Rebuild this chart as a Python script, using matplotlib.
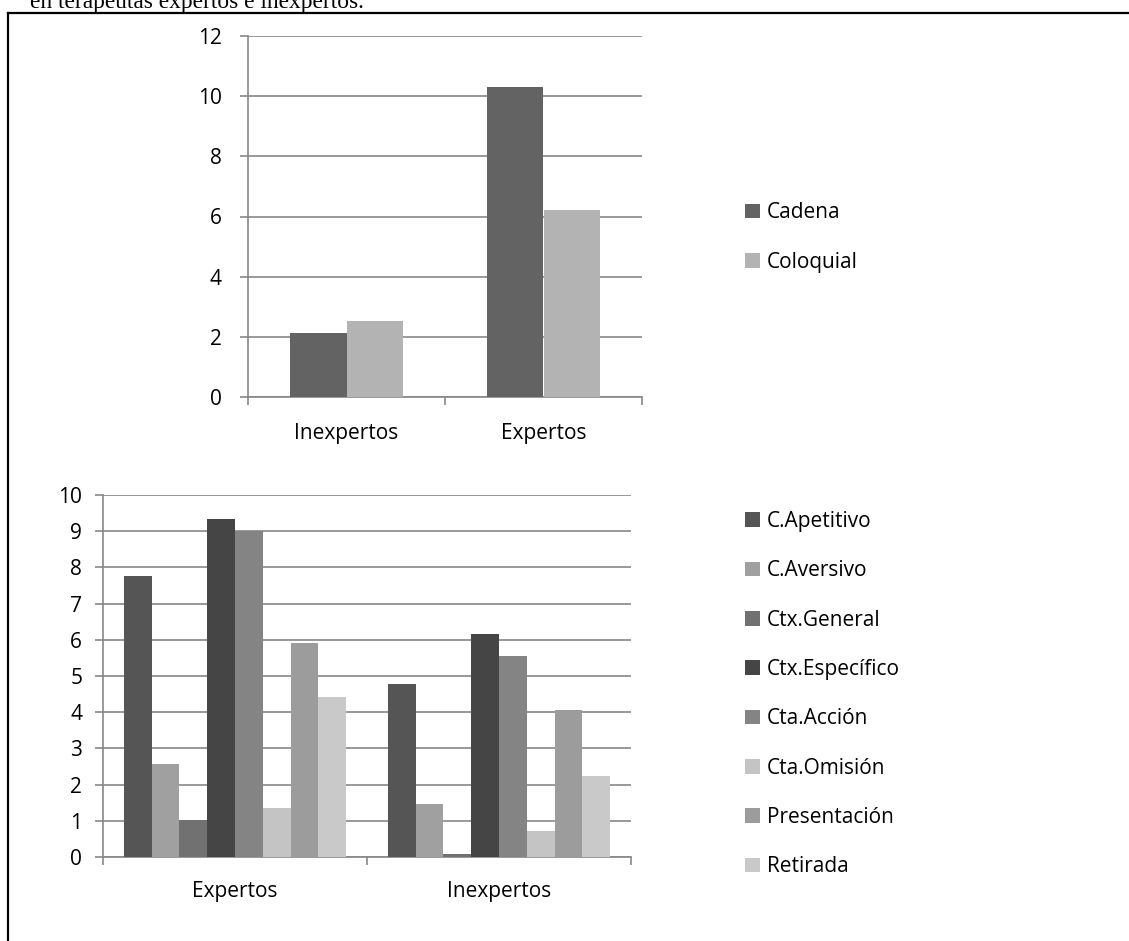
import matplotlib
matplotlib.use("Agg")
import matplotlib.pyplot as plt
from matplotlib.lines import Line2D
import numpy as np

plt.rcParams["font.family"] = ["Open Sans", "DejaVu Sans"]

W, H = 1129, 941
DPI = 100

# --- data: upper chart ---
grupos_sup = ["Inexpertos", "Expertos"]
series_sup = ["Cadena", "Coloquial"]
cadena = [2.14, 10.31]
coloquial = [2.52, 6.21]
colores_sup = ["#636363", "#b3b3b3"]

# --- data: lower chart ---
grupos_inf = ["Expertos", "Inexpertos"]
series_inf = ["C.Apetitivo", "C.Aversivo", "Ctx.General", "Ctx.Específico",
              "Cta.Acción", "Cta.Omisión", "Presentación", "Retirada"]
c_apetitivo = [7.76, 4.79]
c_aversivo = [2.57, 1.47]
ctx_general = [1.01, 0.07]
ctx_especifico = [9.35, 6.17]
cta_accion = [9.01, 5.55]
cta_omision = [1.34, 0.72]
presentacion = [5.92, 4.06]
retirada = [4.41, 2.23]
colores_inf = ["#555555", "#a0a0a0", "#717171", "#454545",
               "#848484", "#c4c4c4", "#9c9c9c", "#c9c9c9"]

GRID = "#878787"
FS = 15


def px_box(x0, y0, x1, y1):
    # pixel box (top-left origin) -> figure fraction rect
    return [x0 / W, 1 - y1 / H, (x1 - x0) / W, (y1 - y0) / H]


def bar_chart(ax, grupos, valores, nombres, colores, ymax, ystep, ypad, xpad):
    n = len(valores)
    ancho = 1.0 / (n + 1.5)
    x = np.arange(len(grupos))
    handles = []
    for i, (v, c) in enumerate(zip(valores, colores)):
        off = (i - (n - 1) / 2) * ancho
        h = ax.bar(x + off, v, width=ancho, color=c, label=nombres[i],
                   zorder=3, linewidth=0)
        handles.append(h)
    ax.set_xlim(-0.5, len(grupos) - 0.5)
    ax.set_ylim(0, ymax)
    ax.set_yticks(np.arange(0, ymax + 0.01, ystep))
    ax.set_xticks(np.arange(-0.5, len(grupos), 1.0))
    ax.set_xticklabels([])
    ax.set_xticks(x, minor=True)
    ax.set_xticklabels(grupos, minor=True, fontsize=FS)
    ax.tick_params(axis="x", which="major", length=6, width=1.2,
                   color=GRID, direction="out")
    ax.tick_params(axis="x", which="minor", length=0, pad=xpad)
    ax.tick_params(axis="y", length=6, width=1.2, color=GRID,
                   labelsize=FS, pad=ypad)
    ax.yaxis.grid(True, color=GRID, linewidth=1.2)
    ax.set_axisbelow(True)
    for s in ["top", "right"]:
        ax.spines[s].set_visible(False)
    for s in ["left", "bottom"]:
        ax.spines[s].set_color(GRID)
        ax.spines[s].set_linewidth(1.2)
    return handles


fig = plt.figure(figsize=(W / DPI, H / DPI), dpi=DPI)

ax1 = fig.add_axes(px_box(248, 36, 642, 397))
hs1 = bar_chart(ax1, grupos_sup, [cadena, coloquial], series_sup,
                colores_sup, 12, 2, 13, 19)

ax2 = fig.add_axes(px_box(103, 495, 631, 857))
hs2 = bar_chart(ax2, grupos_inf,
                [c_apetitivo, c_aversivo, ctx_general, ctx_especifico,
                 cta_accion, cta_omision, presentacion, retirada],
                series_inf, colores_inf, 10, 1, 9, 17)

leg_kw = dict(frameon=False, fontsize=FS, handlelength=0.7,
              handleheight=0.7, handletextpad=0.35, borderpad=0,
              borderaxespad=0, loc="center left", labelspacing=1.36)
fig.legend(handles=hs1, labels=series_sup,
           bbox_to_anchor=(745 / W, 1 - 237.5 / H), **leg_kw)
fig.legend(handles=hs2, labels=series_inf,
           bbox_to_anchor=(745 / W, 1 - 694 / H), **leg_kw)

# caption line cut at the top and the box around the charts
fig.text(30 / W, 1 - 8 / H, "en terapeutas expertos e inexpertos.",
         family="Liberation Serif", fontsize=16.8, va="baseline", ha="left")
fig.add_artist(Line2D([8 / W, 8 / W], [0, 1 - 13 / H], color="black",
                      linewidth=1.6, transform=fig.transFigure))
fig.add_artist(Line2D([8 / W, 1], [1 - 13 / H, 1 - 13 / H], color="black",
                      linewidth=1.6, transform=fig.transFigure))

fig.savefig("out.png", dpi=DPI, facecolor="white")
